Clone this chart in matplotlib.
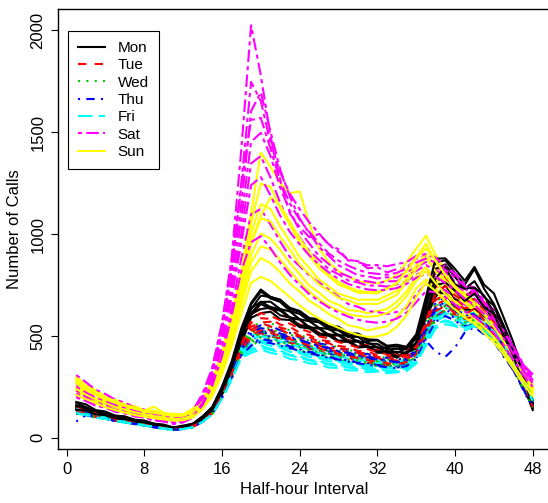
import matplotlib.pyplot as plt

# half-hour interval index of the day
intervals = list(range(1, 49))

days = ["Mon", "Tue", "Wed", "Thu", "Fri", "Sat", "Sun"]

# calls per half-hour, a handful of days per weekday
mon = [
    [172,150,131,122,108,103,88,81,69,62,50,56, 69,104,147,243,366,525, 655,718,684,667,622,608, 573,567,532,527,494,496, 462,461,433,437,434,489, 672,858,872,808,752,829, 731,657,553,437,292,164],
    [148,143,122,115,97,95,81,76,61,57,45,52, 61,96,137,229,339,497, 611,668,642,632,591,583, 542,538,506,507,478,477, 447,447,418,422,418,468, 602,768,791,748,692,729, 651,608,511,418,283,173],
    [139,122,118,101,98,82,80,65,63,49,47,44, 63,82,133,210,336,462, 589,612,619,582,578,543, 537,503,501,472,471,443, 447,418,416,393,418,437, 589,692,749,681,669,681, 639,582,509,391,288,146],
    [157,148,126,121,101,99,83,79,63,60,47,56, 65,98,141,239,355,508, 631,698,691,678,632,618, 581,578,541,538,502,508, 476,478,446,448,441,498, 641,829,851,789,731,769, 691,649,531,429,291,169],
    [148,129,123,105,101,87,82,67,65,50,48,46, 65,85,138,214,345,473, 609,632,639,601,592,551, 547,512,508,477,478,447, 451,424,427,398,421,447, 607,713,709,641,629,631, 589,531,469,361,269,136],
    [176,164,136,129,109,105,89,85,69,65,51,60, 69,105,152,251,375,538, 662,728,692,677,638,623, 588,582,548,546,513,512, 483,481,452,457,447,508, 691,879,881,829,771,839, 751,709,591,469,311,184],
    [160,143,130,112,107,93,87,73,68,55,50,49, 68,90,145,226,358,498, 638,667,668,632,620,582, 572,540,534,504,500,472, 470,442,440,416,441,462, 648,782,838,752,733,737, 698,612,538,412,298,156],
    [137,133,115,111,94,91,77,75,59,57,44,53, 60,93,132,225,338,492, 602,657,633,624,588,580, 540,536,504,502,470,472, 444,446,418,422,414,465, 612,748,762,722,672,708, 642,608,502,402,268,154],
]
tue = [
    [142,126,117,102,97,84,80,68,62,50,47,46, 64,86,137,218,343,467, 563,587,584,556,545,516, 505,481,474,451,445,426, 424,406,404,386,405,436, 585,696,726,676,646,656, 606,546,486,376,276,156],
    [128,122,106,100,88,84,72,68,56,52,42,48, 56,86,126,212,317,443, 517,543,527,513,492,484, 461,454,431,424,406,404, 386,384,371,369,376,424, 536,644,656,624,596,614, 566,524,446,364,256,154],
    [152,133,125,108,103,88,85,70,66,53,51,48, 67,90,143,227,359,486, 604,636,635,601,590,556, 545,516,510,486,480,456, 455,431,425,406,425,456, 606,736,786,716,696,716, 666,596,526,406,296,166],
    [123,117,101,97,83,80,68,65,52,50,39,46, 53,82,119,202,301,423, 486,514,496,489,466,459, 436,429,406,404,386,384, 366,369,356,354,361,404, 506,604,626,604,566,584, 536,504,426,354,246,164],
    [147,128,121,104,99,85,82,68,64,51,49,47, 63,84,136,212,334,456, 545,566,570,541,530,501, 495,471,465,441,435,416, 415,396,395,376,395,426, 566,676,706,656,636,646, 596,536,476,376,286,176],
    [133,126,109,104,89,86,73,70,56,53,42,49, 56,87,127,214,321,453, 526,564,546,534,506,499, 476,464,441,439,416,414, 396,394,376,379,381,424, 546,654,676,644,606,634, 576,534,456,374,266,204],
    [138,125,114,101,94,83,78,67,60,51,46,46, 61,85,133,216,330,462, 575,612,598,577,560,536, 520,498,488,470,458,443, 435,421,410,400,408,448, 575,710,745,700,665,680, 620,565,495,392,280,165],
    [127,120,103,99,87,81,73,64,57,49,43,45, 57,81,124,206,312,432, 502,528,515,500,484,470, 452,440,424,413,400,392, 380,374,366,360,372,410, 524,622,648,612,584,596, 552,508,438,358,258,150],
]
wed = [
    [137,120,112,98,93,81,77,65,60,48,46,44, 60,82,130,206,320,438, 513,527,523,502,493,472, 463,442,433,417,413,397, 393,377,375,362,381,412, 533,627,653,617,593,597, 563,507,443,357,263,157],
    [123,116,102,97,84,80,69,65,53,50,40,46, 53,82,120,200,298,412, 467,493,482,473,452,443, 422,413,397,393,377,373, 362,363,352,353,359,401, 497,593,617,593,557,573, 527,493,417,343,247,153],
    [147,128,120,104,98,86,82,69,64,52,49,47, 64,86,136,216,337,458, 543,567,563,542,528,502, 493,472,463,442,433,417, 413,397,395,382,398,432, 563,667,703,657,633,647, 603,547,473,377,278,167],
    [128,120,105,99,86,82,71,67,55,51,41,47, 55,84,123,206,308,427, 487,513,497,488,467,458, 437,431,412,408,392,388, 375,373,359,359,367,408, 512,613,637,613,577,593, 547,503,427,353,252,158],
    [142,124,116,101,96,83,79,67,62,50,47,45, 62,84,132,210,327,448, 523,542,538,517,508,487, 478,457,448,427,423,407, 403,387,385,372,391,422, 548,647,673,637,613,617, 578,522,458,367,268,162],
    [118,112,98,94,82,74,67,59,51,44,38,44, 51,80,116,194,290,402, 452,478,467,458,437,431, 412,405,387,383,369,365, 352,353,342,343,349,391, 487,578,597,578,547,563, 517,483,407,338,242,148],
    [133,121,109,98,91,81,75,65,58,50,44,45, 58,82,127,207,316,435, 500,522,516,498,484,467, 452,439,424,414,402,393, 384,377,368,362,374,410, 525,622,648,618,585,596, 555,508,438,358,262,158],
    [124,117,101,95,85,79,70,63,54,48,41,44, 54,80,120,199,300,415, 475,495,490,472,460,445, 431,420,406,396,386,378, 370,364,357,352,362,398, 505,596,625,598,566,578, 538,492,422,345,250,150],
]
thu = [
    [132,116,108,94,90,78,74,62,58,47,45,43, 59,80,126,200,310,418, 483,497,498,477,468,447, 441,422,415,399,395,379, 378,365,363,352,371,399, 508,597,633,597,573,577, 543,492,428,342,253,147],
    [80,112,98,94,82,78,67,63,51,48,38,44, 52,80,116,196,293,407, 457,483,472,463,443,435, 417,411,393,389,374,371, 357,358,345,345,352,391, 477,423,397,443,517,543, 507,473,397,333,237,143],
    [147,128,119,104,98,85,81,68,63,51,48,46, 62,84,133,212,330,453, 533,552,551,527,515,492, 483,463,455,437,431,415, 411,395,393,380,397,429, 558,662,693,647,623,637, 593,537,468,372,273,162],
    [123,116,101,96,84,80,68,64,52,49,39,45, 53,82,118,198,296,412, 462,488,477,469,449,441, 423,417,399,395,380,377, 363,363,351,351,359,399, 492,593,612,588,552,568, 525,488,412,341,245,155],
    [140,123,115,100,95,82,78,66,61,49,47,45, 61,83,130,208,322,438, 508,522,521,501,493,473, 465,447,440,423,419,403, 400,386,384,371,389,419, 543,637,668,627,603,612, 573,517,453,362,265,155],
    [133,124,108,102,88,84,72,68,55,52,42,48, 55,85,124,207,310,432, 492,523,507,498,477,468, 449,443,425,421,405,401, 387,385,372,371,377,419, 522,628,647,623,587,603, 557,513,437,359,255,158],
    [136,121,111,98,91,80,76,65,59,49,44,46, 58,83,127,206,318,435, 515,538,531,512,497,480, 466,450,441,425,416,404, 396,386,378,373,382,420, 535,642,660,640,598,610, 566,520,448,362,262,160],
    [121,113,100,94,83,77,69,62,53,47,40,43, 54,78,117,194,292,404, 452,472,465,452,440,428, 414,404,392,384,374,366, 358,353,346,342,352,386, 485,570,598,574,545,556, 516,474,406,332,242,148],
]
fri = [
    [137,120,112,98,92,80,76,64,59,48,46,44, 60,81,128,202,312,418, 473,477,473,452,443,422, 415,397,393,377,375,362, 363,352,353,345,363,392, 503,587,623,597,583,597, 573,527,473,387,293,187],
    [123,116,102,97,84,80,68,64,52,49,39,45, 53,81,118,196,293,402, 437,453,437,428,407,401, 382,378,362,361,347,348, 337,339,329,333,339,378, 467,558,577,563,542,563, 527,498,437,368,272,183],
    [147,128,120,104,98,85,81,68,63,51,48,46, 63,85,134,212,327,443, 503,512,508,487,478,457, 449,431,425,409,405,391, 391,379,379,369,387,417, 533,627,663,637,618,632, 603,557,498,407,308,197],
    [118,112,98,94,82,74,67,59,51,44,38,44, 51,79,115,192,286,392, 417,433,417,408,387,381, 365,361,345,343,331,331, 322,325,317,321,327,365, 452,538,557,548,527,548, 512,483,422,358,262,178],
    [142,124,116,101,95,83,79,66,61,50,47,45, 61,83,131,206,320,430, 488,497,493,472,463,442, 435,417,411,395,393,379, 379,367,368,357,375,405, 518,607,643,617,601,615, 588,542,485,397,301,192],
    [128,120,105,99,86,82,70,66,54,51,41,47, 54,83,121,202,300,412, 452,468,452,443,422,415, 397,391,375,373,359,358, 347,349,339,343,349,389, 482,573,597,583,559,583, 545,515,452,381,279,188],
    [131,118,108,97,88,80,73,64,57,49,43,45, 56,81,124,200,305,414, 462,475,466,450,436,420, 410,396,386,376,368,360, 356,350,346,344,356,392, 495,584,612,596,576,592, 560,522,462,383,286,190],
    [122,113,101,93,84,77,69,62,54,47,41,43, 53,78,117,192,290,395, 430,442,432,418,404,392, 380,370,360,352,345,338, 334,330,326,325,336,370, 462,548,572,556,540,555, 525,490,432,360,270,182],
]
sat = [
    [262,226,208,181,171,148,141,121,113,95,91,89, 133,206,343,556,884,1420, 2025,1780,1480,1265,1100,1035, 985,1000,950,925,870,868, 832,838,812,828,835,878, 895,888,842,808,752,738, 674,628,532,458,362,306],
    [218,198,172,161,140,133,115,109,92,88,73,83, 109,183,287,473,717,1003, 1347,1383,1277,1153,1047,983, 917,873,827,803,772,763, 747,748,742,753,767,803, 817,803,767,733,687,663, 617,573,497,423,337,283],
    [242,209,193,169,159,138,131,112,106,89,85,83, 123,192,318,507,793,1147, 1603,1697,1503,1317,1183,1077, 1003,937,893,847,823,797, 793,782,788,787,813,837, 863,837,813,767,733,697, 653,592,523,432,358,287],
    [198,181,157,148,128,122,105,100,84,81,67,77, 99,168,262,423,637,883, 1097,1123,1047,963,887,843, 797,763,727,693,657,643, 622,618,607,618,637,703, 757,753,722,693,652,633, 587,548,477,403,322,263],
    [232,201,186,162,153,133,126,108,102,86,82,80, 119,185,305,487,753,1077, 1453,1497,1383,1227,1113,1017, 953,892,853,812,793,772, 768,759,768,769,795,819, 848,822,798,752,718,682, 641,582,515,425,351,282],
    [308,273,235,215,187,173,149,139,118,111,94,104, 132,218,342,563,857,1253, 1747,1653,1447,1303,1197,1123, 1057,1003,947,913,877,863, 847,848,842,853,862,893, 902,883,842,803,752,723, 667,613,527,448,357,313],
    [250,222,196,178,160,146,132,120,106,96,86,90, 124,198,325,530,830,1240, 1560,1570,1420,1260,1150,1070, 1010,955,905,870,845,825, 810,805,800,810,830,860, 880,860,825,785,745,710, 660,605,525,440,360,295],
    [212,190,168,152,138,126,113,103,92,83,74,78, 106,172,278,450,690,960, 1240,1280,1190,1090,1010,950, 895,850,812,780,755,740, 728,725,726,735,755,785, 805,790,760,722,682,652, 608,560,490,412,332,270],
    [205,182,162,146,132,120,108,98,88,80,72,76, 100,160,255,400,600,820, 960,990,930,860,800,750, 705,670,640,615,595,580, 570,565,570,585,615,665, 720,715,690,655,620,595, 555,515,455,385,310,250],
]
sun = [
    [302,257,233,202,188,165,155,137,133,119,118,115, 143,187,283,417,603,817, 1103,1400,1330,1250,1200,1210, 1050,930,862,818,792,768, 762,758,772,798,862,928, 992,898,822,758,712,668, 622,558,482,398,322,258],
    [248,223,192,178,155,146,127,121,105,103,91,100, 112,163,237,363,517,703, 897,1003,977,923,857,803, 747,713,672,653,627,623, 612,623,632,668,717,793, 837,783,717,673,627,603, 552,508,437,368,287,233],
    [282,242,221,192,178,155,146,127,123,109,108,105, 131,172,263,387,563,757, 1003,1147,1123,1037,963,887, 833,777,743,707,693,677, 678,677,698,722,783,847, 903,837,773,712,673,632, 593,532,463,382,308,242],
    [228,205,177,165,143,135,117,113,97,95,83,92, 103,151,217,333,477,653, 817,883,857,813,757,718, 672,643,607,583,552,543, 527,538,547,593,647,733, 777,733,677,638,597,573, 525,485,417,353,275,218],
    [267,229,210,182,170,148,140,122,118,104,104,101, 125,165,253,372,543,727, 953,1077,1063,987,923,852, 803,752,721,687,675,657, 658,657,678,702,763,827, 883,817,758,697,661,622, 583,522,455,375,301,235],
    [292,252,228,197,183,160,151,134,153,122,113,109, 136,179,273,402,583,787, 1053,1247,1233,1127,1043,957, 893,832,793,752,733,712, 711,709,731,757,823,887, 953,867,798,735,695,652, 608,545,473,389,313,247],
    [272,240,214,193,173,157,143,131,122,114,106,109, 127,174,258,385,555,745, 960,1090,1180,1140,1060,980, 910,850,800,765,740,722, 716,718,732,760,815,880, 930,870,800,745,700,662, 612,552,475,395,312,250],
    [240,212,188,170,152,138,126,115,106,98,92,95, 110,154,228,345,495,670, 860,940,925,875,818,765, 718,680,648,625,608,598, 594,598,612,642,695,770, 820,760,705,656,618,588, 542,495,430,360,285,225],
    [210,190,170,150,136,124,112,104,96,90,84,86, 100,140,205,310,450,610, 760,790,770,730,690,650, 615,585,560,540,520,505, 495,498,510,545,600,690, 760,720,670,630,590,560, 515,470,410,340,265,205],
]

calls = {"Mon": mon, "Tue": tue, "Wed": wed, "Thu": thu, "Fri": fri, "Sat": sat, "Sun": sun}

# R palette and lty 1..6 (Sun wraps back to solid)
colors = ["black", "red", "#00CD00", "blue", "cyan", "magenta", "yellow"]
styles = ["-", (0, (4, 4)), (0, (1, 3)), (0, (1, 3, 4, 3)), (0, (7, 3)), (0, (2, 2, 6, 2)), "-"]

plt.rcParams["font.family"] = ["Liberation Sans", "DejaVu Sans"]

fig = plt.figure(figsize=(5.48, 5.03), dpi=100)
ax = fig.add_axes([58 / 548, 54 / 503, 493 / 548, 440 / 503])

# draw day by day in calendar order, like matplot on the columns
n_weeks = max(len(v) for v in calls.values())
for w in range(n_weeks):
    for i, d in enumerate(days):
        if w >= len(calls[d]):
            continue
        ax.plot(intervals, calls[d][w], color=colors[i], linestyle=styles[i], lw=1.5,
                label=d if w == 0 else None)

ax.set_xlim(-0.88, 49.88)
ax.set_ylim(-55, 2105)
ax.set_xticks([0, 8, 16, 24, 32, 40, 48])
ax.set_yticks([0, 500, 1000, 1500, 2000])
ax.tick_params(direction="out", length=5, width=0.8, labelsize=12, pad=4)
ax.tick_params(axis="y", labelrotation=90)
plt.setp(ax.get_yticklabels(), va="center")
for s in ax.spines.values():
    s.set_linewidth(1.0)

ax.set_xlabel("Half-hour Interval", fontsize=12, labelpad=4)
ax.set_ylabel("Number of Calls", fontsize=12, labelpad=6)

leg = ax.legend(loc="upper left", bbox_to_anchor=(10 / 493, 1 - 22 / 440), borderaxespad=0,
                fancybox=False, edgecolor="black", framealpha=1, fontsize=11,
                handlelength=1.8, handletextpad=0.8, labelspacing=0.22, borderpad=0.65)
leg.get_frame().set_linewidth(0.8)

fig.savefig("out.png", dpi=100)
